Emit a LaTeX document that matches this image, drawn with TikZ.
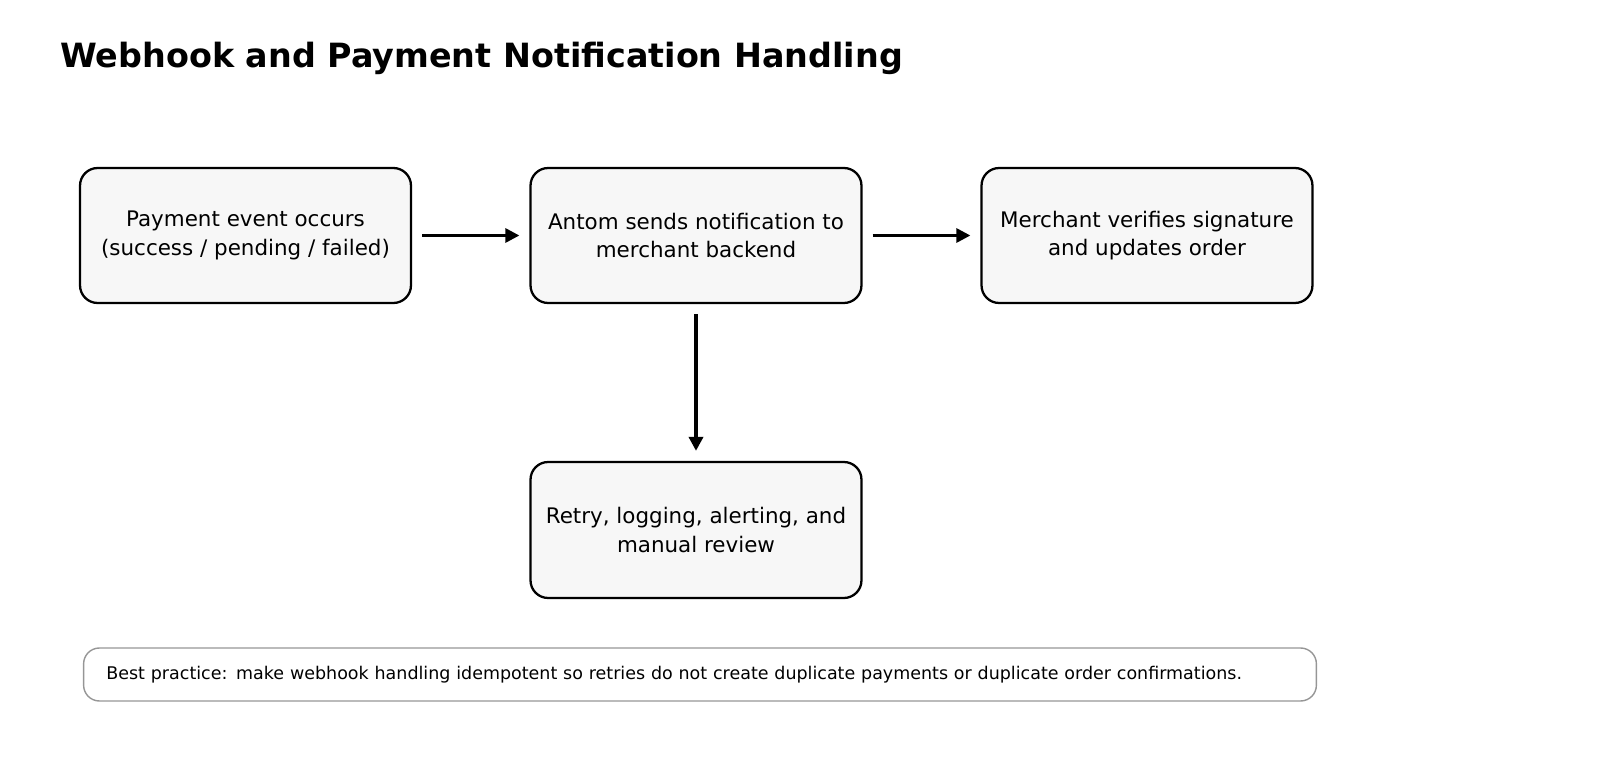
\documentclass[tikz,border=0pt]{standalone}
\usepackage{fontspec}
\setmainfont{DejaVu Sans}
\usetikzlibrary{arrows.meta}
\begin{document}
\begin{tikzpicture}[x=0.02cm,y=-0.02cm,
  box/.style={draw=black,line width=1.3pt,rounded corners=10pt,fill={rgb,255:red,247;green,247;blue,247},minimum width=6.62cm,minimum height=2.7cm,align=center,font=\fontsize{12.2}{16.3}\selectfont},
  arr/.style={-{Triangle[length=8pt,width=8pt]},line width=1.7pt,shorten <=0.2cm,shorten >=0.2cm}]
\useasboundingbox (0,0) rectangle (1600,760);
\node[anchor=west,font=\bfseries\fontsize{19}{22}\selectfont] (title) at (54,58) {Webhook and Payment Notification Handling};
\node[box] (a) at (245.5,235.5) {Payment event occurs\\(success / pending / failed)};
\node[box] (b) at (696,235.5) {Antom sends notification to\\merchant backend};
\node[box] (c) at (1147,235.5) {Merchant verifies signature\\and updates order};
\node[box,minimum height=2.72cm] (d) at (696,530) {Retry, logging, alerting, and\\manual review};
\draw[arr] (a) -- (b);
\draw[arr] (b) -- (c);
\draw[arr,line width=2pt] (b) -- (d);
\node[draw={rgb,255:red,150;green,150;blue,150},line width=0.8pt,rounded corners=9pt,minimum width=24.66cm,minimum height=1.06cm,text width=23.75cm,inner sep=0pt,align=left,font=\fontsize{9.95}{12}\selectfont] (note) at (700,674.5) {Best practice: make webhook handling idempotent so retries do not create duplicate payments or duplicate order confirmations.};
\end{tikzpicture}
\end{document}
